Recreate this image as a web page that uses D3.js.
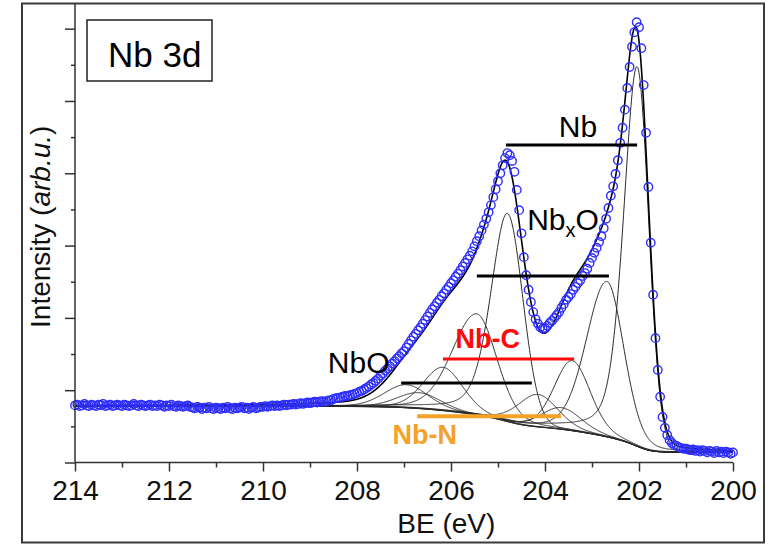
<!DOCTYPE html>
<html>
<head>
<meta charset="utf-8">
<script src="https://cdn.jsdelivr.net/npm/d3@7"></script>
<style>
  html, body { margin: 0; padding: 0; background: #fff; }
  svg { display: block; }
  text { font-family: "Liberation Sans", Arial, sans-serif; }
</style>
</head>
<body>
<svg id="chart" width="777" height="545"></svg>
<script>
// Nb 3d core-level scan: binding energy (eV) and measured intensity (arb. u.)
const bindingEnergy = [
  214.00,213.95,213.90,213.85,213.80,213.75,213.70,213.65,213.60,213.55,
  213.50,213.45,213.40,213.35,213.30,213.25,213.20,213.15,213.10,213.05,
  213.00,212.95,212.90,212.85,212.80,212.75,212.70,212.65,212.60,212.55,
  212.50,212.45,212.40,212.35,212.30,212.25,212.20,212.15,212.10,212.05,
  212.00,211.95,211.90,211.85,211.80,211.75,211.70,211.65,211.60,211.55,
  211.50,211.45,211.40,211.35,211.30,211.25,211.20,211.15,211.10,211.05,
  211.00,210.95,210.90,210.85,210.80,210.75,210.70,210.65,210.60,210.55,
  210.50,210.45,210.40,210.35,210.30,210.25,210.20,210.15,210.10,210.05,
  210.00,209.95,209.90,209.85,209.80,209.75,209.70,209.65,209.60,209.55,
  209.50,209.45,209.40,209.35,209.30,209.25,209.20,209.15,209.10,209.05,
  209.00,208.95,208.90,208.85,208.80,208.75,208.70,208.65,208.60,208.55,
  208.50,208.45,208.40,208.35,208.30,208.25,208.20,208.15,208.10,208.05,
  208.00,207.95,207.90,207.85,207.80,207.75,207.70,207.65,207.60,207.55,
  207.50,207.45,207.40,207.35,207.30,207.25,207.20,207.15,207.10,207.05,
  207.00,206.95,206.90,206.85,206.80,206.75,206.70,206.65,206.60,206.55,
  206.50,206.45,206.40,206.35,206.30,206.25,206.20,206.15,206.10,206.05,
  206.00,205.95,205.90,205.85,205.80,205.75,205.70,205.65,205.60,205.55,
  205.50,205.45,205.40,205.35,205.30,205.25,205.20,205.15,205.10,205.05,
  205.00,204.95,204.90,204.85,204.80,204.75,204.70,204.65,204.60,204.55,
  204.50,204.45,204.40,204.35,204.30,204.25,204.20,204.15,204.10,204.05,
  204.00,203.95,203.90,203.85,203.80,203.75,203.70,203.65,203.60,203.55,
  203.50,203.45,203.40,203.35,203.30,203.25,203.20,203.15,203.10,203.05,
  203.00,202.95,202.90,202.85,202.80,202.75,202.70,202.65,202.60,202.55,
  202.50,202.45,202.40,202.35,202.30,202.25,202.20,202.15,202.10,202.05,
  202.00,201.95,201.90,201.85,201.80,201.75,201.70,201.65,201.60,201.55,
  201.50,201.45,201.40,201.35,201.30,201.25,201.20,201.15,201.10,201.05,
  201.00,200.95,200.90,200.85,200.80,200.75,200.70,200.65,200.60,200.55,
  200.50,200.45,200.40,200.35,200.30,200.25,200.20,200.15,200.10,200.05,
  200.00
];
const intensity = [
  0.79,0.80,0.78,0.79,0.81,0.79,0.78,0.80,0.79,0.78,
  0.80,0.79,0.81,0.78,0.79,0.80,0.78,0.79,0.80,0.79,
  0.78,0.80,0.79,0.78,0.79,0.81,0.79,0.78,0.80,0.79,
  0.78,0.79,0.80,0.78,0.79,0.78,0.80,0.79,0.77,0.79,
  0.78,0.80,0.78,0.77,0.79,0.78,0.77,0.78,0.79,0.77,
  0.76,0.75,0.77,0.76,0.74,0.76,0.75,0.77,0.75,0.74,
  0.76,0.75,0.74,0.76,0.75,0.77,0.75,0.74,0.76,0.75,
  0.76,0.77,0.75,0.76,0.74,0.76,0.77,0.75,0.76,0.77,
  0.77,0.78,0.77,0.78,0.79,0.78,0.79,0.78,0.79,0.80,
  0.79,0.80,0.80,0.81,0.80,0.81,0.82,0.81,0.82,0.83,
  0.82,0.83,0.84,0.83,0.84,0.85,0.84,0.85,0.86,0.86,
  0.88,0.89,0.89,0.90,0.91,0.92,0.92,0.93,0.94,0.95,
  0.96,0.98,0.99,1.01,1.03,1.05,1.08,1.10,1.13,1.16,
  1.20,1.23,1.27,1.30,1.33,1.37,1.40,1.44,1.47,1.51,
  1.54,1.59,1.64,1.69,1.74,1.78,1.83,1.87,1.92,1.97,
  2.02,2.07,2.12,2.16,2.21,2.25,2.30,2.34,2.39,2.43,
  2.48,2.52,2.57,2.61,2.66,2.71,2.76,2.81,2.86,2.92,
  2.99,3.06,3.13,3.21,3.29,3.37,3.46,3.56,3.67,3.78,
  3.89,4.00,4.11,4.21,4.28,4.25,4.17,4.02,3.77,3.49,
  3.17,2.84,2.59,2.39,2.22,2.08,1.98,1.92,1.87,1.85,
  1.86,1.89,1.93,1.96,2.00,2.04,2.08,2.14,2.19,2.25,
  2.29,2.33,2.39,2.43,2.48,2.52,2.58,2.62,2.68,2.76,
  2.83,2.90,2.97,3.05,3.13,3.24,3.37,3.52,3.69,3.82,
  3.99,4.18,4.42,4.63,4.88,5.18,5.47,5.75,5.95,6.09,
  6.02,5.73,5.22,4.56,3.81,3.04,2.32,1.72,1.28,0.91,
  0.63,0.48,0.38,0.31,0.27,0.24,0.23,0.21,0.20,0.19,
  0.19,0.18,0.17,0.18,0.16,0.17,0.15,0.17,0.16,0.14,
  0.16,0.15,0.13,0.16,0.14,0.15,0.13,0.15,0.14,0.12,
  0.14
];

// Fitted spin-orbit doublet components (pseudo-Voigt, asymmetric widths)
const componentNames  = ["Nb 3d5/2", "Nb 3d3/2", "NbxO 3d5/2", "NbxO 3d3/2", "Nb-C 3d5/2",
                         "Nb-C 3d3/2", "NbO 3d5/2", "NbO 3d3/2", "Nb-N 3d5/2", "Nb-N 3d3/2"];
const componentCenter = [202.04, 204.80, 202.68, 205.45, 203.42, 206.17, 204.15, 206.95, 203.65, 206.68];
const componentHeight = [5.25, 2.88, 2.15, 1.40, 0.97, 0.60, 0.45, 0.32, 0.30, 0.22];
const componentHwhmHigh = [0.34, 0.42, 0.52, 0.62, 0.45, 0.50, 0.50, 0.55, 0.50, 0.55];
const componentHwhmLow  = [0.29, 0.39, 0.42, 0.50, 0.45, 0.50, 0.50, 0.55, 0.50, 0.55];
const componentMixHigh  = [0.40, 0.40, 0.20, 0.20, 0.20, 0.20, 0.20, 0.20, 0.20, 0.20];
const componentMixLow   = [0.05, 0.05, 0.20, 0.20, 0.20, 0.20, 0.20, 0.20, 0.20, 0.20];
// Shirley background end levels
const backgroundHighBE = 0.78;
const backgroundLowBE = 0.14;

// Doublet tie lines and their labels
const doubletLabels = ["Nb", "NbxO", "NbO", "Nb-C", "Nb-N"];
const doubletFrom   = [204.83, 205.45, 207.06, 206.17, 206.72];
const doubletTo     = [202.04, 202.64, 204.28, 203.38, 203.66];
const doubletLevel  = [4.39, 2.58, 1.10, 1.43, 0.64];
const doubletColor  = ["#000000", "#000000", "#000000", "#ff0a0a", "#f5a12a"];

const majorTicksX = [214, 212, 210, 208, 206, 204, 202, 200];
const minorTicksX = [213, 211, 209, 207, 205, 203, 201];
const majorTicksY = [0, 1, 2, 3, 4, 5, 6];
const minorTicksY = [0.5, 1.5, 2.5, 3.5, 4.5, 5.5];

// ---- layout ----
const svg = d3.select("#chart");
const x = d3.scaleLinear().domain([214, 200]).range([75, 733]);
const y = d3.scaleLinear().domain([0, 6.355]).range([462.5, 3]);

// outer frame
svg.append("rect")
  .attr("x", 22).attr("y", 3.5).attr("width", 742).attr("height", 539)
  .attr("fill", "none").attr("stroke", "#3a3a3a").attr("stroke-width", 2);

// ---- fit model (components on a Shirley background) ----
function pseudoVoigt(e, i) {
  const d = e - componentCenter[i];
  const w = d >= 0 ? componentHwhmHigh[i] : componentHwhmLow[i];
  const m = d >= 0 ? componentMixHigh[i] : componentMixLow[i];
  const t = (d / w) * (d / w);
  return componentHeight[i] * ((1 - m) * Math.exp(-Math.LN2 * t) + m / (1 + t));
}
const fineGrid = d3.range(20000, 21401).map(k => k / 100);
const peakSum = fineGrid.map(e => d3.sum(componentCenter, (_, i) => pseudoVoigt(e, i)));
const cumulative = [0];
for (let k = 1; k < fineGrid.length; k++) {
  cumulative.push(cumulative[k - 1] + 0.5 * (peakSum[k - 1] + peakSum[k]) * 0.01);
}
const total = cumulative[cumulative.length - 1];
const background = cumulative.map(c => backgroundLowBE + (backgroundHighBE - backgroundLowBE) * c / total);

const line = d3.line().x(d => x(d[0])).y(d => y(d[1]));
const plot = svg.append("g");

// background
plot.append("path")
  .attr("d", line(fineGrid.map((e, k) => [e, background[k]])))
  .attr("fill", "none").attr("stroke", "#333").attr("stroke-width", 1);

// components
componentCenter.forEach((_, i) => {
  plot.append("path")
    .attr("d", line(fineGrid.map((e, k) => [e, background[k] + pseudoVoigt(e, i)])))
    .attr("fill", "none").attr("stroke", "#2a2a2a").attr("stroke-width", 1);
});

// envelope
plot.append("path")
  .attr("d", line(fineGrid.map((e, k) => [e, background[k] + peakSum[k]])))
  .attr("fill", "none").attr("stroke", "#000").attr("stroke-width", 1.6);

// measured points
plot.append("g").selectAll("circle")
  .data(bindingEnergy.map((e, i) => [e, intensity[i]]))
  .join("circle")
  .attr("cx", d => x(d[0])).attr("cy", d => y(d[1])).attr("r", 4.2)
  .attr("fill", "none").attr("stroke", "#2e2eff").attr("stroke-width", 1.4);

// ---- axes ----
const xAxisG = svg.append("g").attr("transform", `translate(0,${y(0)})`);
xAxisG.call(d3.axisBottom(x).tickValues(minorTicksX).tickSize(5).tickFormat(""));
const xMajor = svg.append("g").attr("transform", `translate(0,${y(0)})`)
  .call(d3.axisBottom(x).tickValues(majorTicksX).tickSize(9).tickPadding(9).tickFormat(d3.format("d")));
svg.selectAll(".domain").remove();
svg.selectAll(".tick line").attr("stroke", "#333").attr("stroke-width", 1.5);
xMajor.selectAll("text").attr("font-size", 28).attr("fill", "#111")
  .style("font-family", "'Liberation Sans', Arial, sans-serif");
svg.append("line").attr("x1", x(214)).attr("x2", x(200)).attr("y1", y(0)).attr("y2", y(0))
  .attr("stroke", "#333").attr("stroke-width", 1.5);

const yMinor = svg.append("g").attr("transform", `translate(${x(214)},0)`)
  .call(d3.axisLeft(y).tickValues(minorTicksY).tickSize(4).tickFormat(""));
const yMajor = svg.append("g").attr("transform", `translate(${x(214)},0)`)
  .call(d3.axisLeft(y).tickValues(majorTicksY).tickSize(10).tickFormat(""));
yMinor.select(".domain").remove();
yMajor.select(".domain").remove();
svg.selectAll(".tick line").attr("stroke", "#333").attr("stroke-width", 1.5);
svg.append("line").attr("x1", x(214)).attr("x2", x(214)).attr("y1", y(6.355)).attr("y2", y(0))
  .attr("stroke", "#333").attr("stroke-width", 1.5);

// axis titles
svg.append("text").attr("x", x(206.1)).attr("y", 533).attr("text-anchor", "middle")
  .attr("font-size", 28).attr("fill", "#111").text("BE (eV)");
const yTitle = svg.append("text")
  .attr("transform", `translate(50,${y(3.26)}) rotate(-90)`)
  .attr("text-anchor", "middle").attr("font-size", 28).attr("fill", "#111");
yTitle.append("tspan").text("Intensity (");
yTitle.append("tspan").attr("font-style", "italic").text("arb.u.");
yTitle.append("tspan").text(")");

// ---- doublet tie lines and labels ----
doubletLabels.forEach((name, i) => {
  svg.append("line")
    .attr("x1", x(doubletFrom[i])).attr("x2", x(doubletTo[i]))
    .attr("y1", y(doubletLevel[i])).attr("y2", y(doubletLevel[i]))
    .attr("stroke", doubletColor[i]).attr("stroke-width", i === 4 ? 4 : 3);
});
svg.append("text").attr("x", x(203.30)).attr("y", y(4.50)).attr("text-anchor", "middle")
  .attr("font-size", 30).attr("fill", "#000").text("Nb");
const nbx = svg.append("text").attr("x", x(204.38)).attr("y", y(3.22))
  .attr("font-size", 30).attr("fill", "#000");
nbx.append("tspan").text("Nb");
nbx.append("tspan").attr("font-size", 20).attr("dy", 7).text("x");
nbx.append("tspan").attr("dy", -7).text("O");
svg.append("text").attr("x", x(208.62)).attr("y", y(1.24))
  .attr("font-size", 30).attr("fill", "#000").text("NbO");
svg.append("text").attr("x", x(205.22)).attr("y", y(1.58)).attr("text-anchor", "middle")
  .attr("font-size", 27).attr("font-weight", "bold").attr("fill", doubletColor[3]).text("Nb-C");
svg.append("text").attr("x", x(206.56)).attr("y", y(0.26)).attr("text-anchor", "middle")
  .attr("font-size", 27).attr("font-weight", "bold").attr("fill", doubletColor[4]).text("Nb-N");

// ---- core-level tag ----
svg.append("rect").attr("x", 87).attr("y", 20).attr("width", 125).attr("height", 61)
  .attr("fill", "#fff").attr("stroke", "#222").attr("stroke-width", 1.5);
svg.append("text").attr("x", 108).attr("y", 67).attr("font-size", 35).attr("fill", "#000").text("Nb 3d");
</script>
</body>
</html>
